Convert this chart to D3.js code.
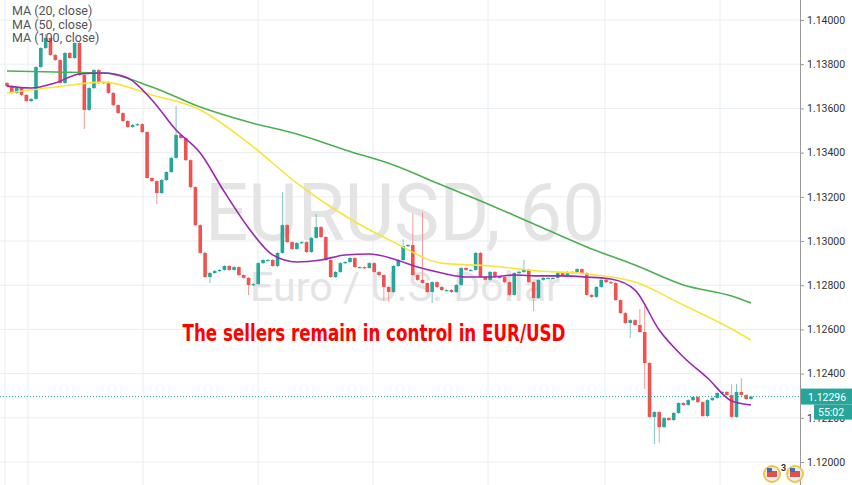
<!DOCTYPE html>
<html><head><meta charset="utf-8">
<script src="https://cdn.jsdelivr.net/npm/d3@7"></script>
<style>body{margin:0;background:#fff}svg{display:block}</style>
</head><body>
<svg id="c" width="852" height="485"></svg>
<script>
const firstOpen = 1.13715;
const closes = [
1.13701,1.1367,1.13692,1.13661,1.13633,1.13643,1.13787,1.13873,1.13919,1.13842,1.13819,1.13715,1.13851,1.13828,1.13896,1.13751,1.13593,1.13692,1.13774,1.13715,1.13719,1.1367,1.13615,1.13579,1.13543,1.13516,1.13525,1.13529,1.13493,1.13285,1.13271,1.13217,1.13276,1.13312,1.13376,1.1348,1.13466,1.13366,1.13244,1.13072,
1.12946,1.12837,1.12855,1.12864,1.12869,1.12887,1.12869,1.12882,1.12846,1.12833,1.12801,1.12805,1.129,1.12914,1.12914,1.12887,1.12946,1.13072,1.12995,1.12964,1.12991,1.12995,1.1295,1.13014,1.13063,1.13018,1.12914,1.12837,1.1286,1.129,1.12905,1.12923,1.12882,1.12882,1.12878,1.129,1.1286,1.12846,1.12792,1.12769,1.12887,1.12914,1.12977,1.12982,1.12846,1.12824,1.1281,1.12769,
1.12814,1.12792,1.12778,1.12778,1.12769,1.12801,1.12878,1.12869,1.12869,1.12946,1.12837,1.12824,1.1286,1.12837,1.12837,1.12814,1.12756,1.12855,1.1286,1.12869,1.12814,1.12742,1.12824,1.12833,1.12833,1.12833,1.12855,1.12846,1.1286,1.1286,1.12873,1.12855,1.12756,1.12747,1.12792,
1.12824,1.12814,1.1281,1.12733,1.12674,1.12629,1.12642,1.1262,1.12588,1.12448,1.12204,1.12226,1.12158,1.12199,1.1219,1.12222,1.12267,1.12258,1.1228,1.12294,1.12271,1.12208,1.1228,1.1229,1.12312,1.12317,1.12303,1.12204,1.12317,1.12303,1.12285,1.12296];
// notable wick extremes [index, price]
const highWicks = [[8,1.13932],[35,1.13606],[57,1.13217],[64,1.13118],[82,1.13004],[84,1.13118],[86,1.13127],[107,1.1291],[131,1.12688],[132,1.12701],[150,1.12348],[151,1.12348],[152,1.12375]];
const lowWicks = [[16,1.13511],[31,1.13172],[42,1.12814],[50,1.1276],[78,1.12733],[79,1.12729],[88,1.12724],[109,1.12688],[129,1.12566],[132,1.12335],[134,1.12086],[135,1.12091]];
const ma20Idx = [0,5,10,15,20,25,30,35,40,45,50,55,60,65,70,75,80,85,90,95,100,105,110,115,120,125,130,135,140,145,150,154];
const ma20 = [1.13701,1.13692,1.13715,1.13756,1.1376,1.13738,1.13638,1.13502,1.13398,1.13222,1.13059,1.12937,1.12905,1.12914,1.12937,1.12941,1.12919,1.12882,1.12855,1.12837,1.12837,1.12846,1.12842,1.12842,1.12837,1.12828,1.12778,1.12597,1.12475,1.1238,1.12276,1.12258];
const maIdx = [0,10,20,30,40,50,60,70,80,90,100,110,120,130,140,150,154];
const ma50 = [1.1367,1.13697,1.13719,1.13661,1.13593,1.13443,1.13262,1.13113,1.12995,1.129,1.12887,1.12864,1.12851,1.12814,1.1271,1.12602,1.12552];
const ma100 = [1.13769,1.13765,1.1376,1.13697,1.13606,1.13538,1.13484,1.13412,1.13344,1.13253,1.13163,1.13068,1.12973,1.12891,1.12801,1.12751,1.12719];
const yTicks = [1.14,1.138,1.136,1.134,1.132,1.13,1.128,1.126,1.124,1.122,1.12];
const lastPrice = 1.12296, timer = "55:02";

const svg = d3.select("#c");
const W = 800;
const x = d3.scaleLinear().domain([0, closes.length-1]).range([7, 751]);
const y = d3.scaleLinear().domain([1.12, 1.14]).range([462, 20]);
const up="#26a69a", dn="#ef5350";

const g = svg.append("g");
g.selectAll(".h").data(yTicks).join("line").attr("x1",0).attr("x2",W).attr("y1",d=>y(d)).attr("y2",d=>y(d)).attr("stroke","#e8edf2");
const vx = [5,28,143,258,373,488,605,720];
g.selectAll(".v").data(vx).join("line").attr("x1",d=>d).attr("x2",d=>d).attr("y1",0).attr("y2",485).attr("stroke","#e8edf2");

svg.append("text").attr("x",405).attr("y",240).attr("text-anchor","middle").attr("font-family","Roboto, sans-serif").attr("font-size",80).attr("fill","#e4e4e4").attr("textLength",400).attr("lengthAdjust","spacingAndGlyphs").text("EURUSD, 60");
svg.append("text").attr("x",405).attr("y",301).attr("text-anchor","middle").attr("font-family","Roboto, sans-serif").attr("font-size",40).attr("fill","#e4e4e4").attr("textLength",310).attr("lengthAdjust","spacingAndGlyphs").text("Euro / U.S. Dollar");

const data = closes.map((c,i)=>{
  const o = i===0?firstOpen:closes[i-1];
  return {i,o,c,h:Math.max(o,c),l:Math.min(o,c)};
});
highWicks.forEach(([i,v])=>data[i].h=v);
lowWicks.forEach(([i,v])=>data[i].l=v);
const cg = svg.append("g");
cg.selectAll("line").data(data).join("line")
 .attr("x1",d=>x(d.i)).attr("x2",d=>x(d.i)).attr("y1",d=>y(d.h)-1).attr("y2",d=>y(d.l)+1)
 .attr("stroke",d=>d.c>=d.o?"#7cc9c1":"#f29b99").attr("stroke-width",1);
cg.selectAll("rect").data(data).join("rect")
 .attr("x",d=>x(d.i)-1.8).attr("width",3.6)
 .attr("y",d=>y(Math.max(d.o,d.c))).attr("height",d=>Math.max(1.2,Math.abs(y(d.o)-y(d.c))))
 .attr("fill",d=>d.c>=d.o?up:dn);

const line = d3.line().x(d=>x(d[0])).y(d=>y(d[1])).curve(d3.curveMonotoneX);
[[ma100,maIdx,"#4caf50"],[ma50,maIdx,"#f7e53b"],[ma20,ma20Idx,"#9c27b0"]].forEach(([v,idx,col])=>{
  svg.append("path").attr("d",line(idx.map((k,j)=>[k,v[j]]))).attr("fill","none").attr("stroke",col).attr("stroke-width",1.6);
});

svg.append("line").attr("x1",0).attr("x2",W).attr("y1",y(lastPrice)).attr("y2",y(lastPrice)).attr("stroke",up).attr("stroke-dasharray","1,2");

["MA (20, close)","MA (50, close)","MA (100, close)"].forEach((t,k)=>{
  svg.append("text").attr("x",12).attr("y",15+k*13.5).attr("font-family","Roboto, sans-serif").attr("font-size",12.5).attr("fill","#555").text(t);
});

svg.append("text").attr("x",374).attr("y",341).attr("text-anchor","middle").attr("font-family","'Liberation Sans Narrow', 'DejaVu Sans Condensed', sans-serif").attr("font-weight","bold").attr("font-size",23).attr("fill","#ff0000").attr("textLength",383).attr("lengthAdjust","spacingAndGlyphs").text("The sellers remain in control in EUR/USD");

svg.append("rect").attr("x",W).attr("y",0).attr("width",52).attr("height",485).attr("fill","#fff");
svg.append("line").attr("x1",W+0.5).attr("x2",W+0.5).attr("y1",0).attr("y2",485).attr("stroke","#999");
const ax = svg.append("g").attr("transform",`translate(${W},0)`).call(d3.axisRight(y).tickValues(yTicks).tickFormat(d3.format(".5f")).tickSize(4));
ax.select(".domain").remove();
ax.selectAll("line").attr("stroke","#999");
ax.selectAll("text").attr("font-family","Roboto, sans-serif").attr("font-size",10.5).attr("fill","#333").attr("x",7);
const ly = y(lastPrice);
svg.append("rect").attr("x",W+1).attr("y",ly-8).attr("width",51).attr("height",16).attr("fill",up);
svg.append("text").attr("x",W+8).attr("y",ly+4).attr("font-family","Roboto, sans-serif").attr("font-size",10.5).attr("fill","#fff").text(lastPrice.toFixed(5));
svg.append("rect").attr("x",W+14).attr("y",ly+8).attr("width",38).attr("height",15).attr("fill",up);
svg.append("text").attr("x",W+18).attr("y",ly+19).attr("font-family","Roboto, sans-serif").attr("font-size",10.5).attr("fill","#fff").text(timer);

[[772,474],[795,474]].forEach(([cx,cy])=>{
  svg.append("circle").attr("cx",cx).attr("cy",cy).attr("r",8).attr("fill","#e8eef5").attr("stroke","#f5c242").attr("stroke-width",2);
  svg.append("rect").attr("x",cx-5).attr("y",cy-3).attr("width",10).attr("height",6).attr("fill","#d9534f");
  svg.append("rect").attr("x",cx-5).attr("y",cy-6).attr("width",5).attr("height",4).attr("fill","#3b6fb6");
});
svg.append("text").attr("x",781).attr("y",471).attr("font-family","Roboto, sans-serif").attr("font-size",9).attr("font-weight","bold").attr("fill","#333").text("3");
</script>
</body></html>
